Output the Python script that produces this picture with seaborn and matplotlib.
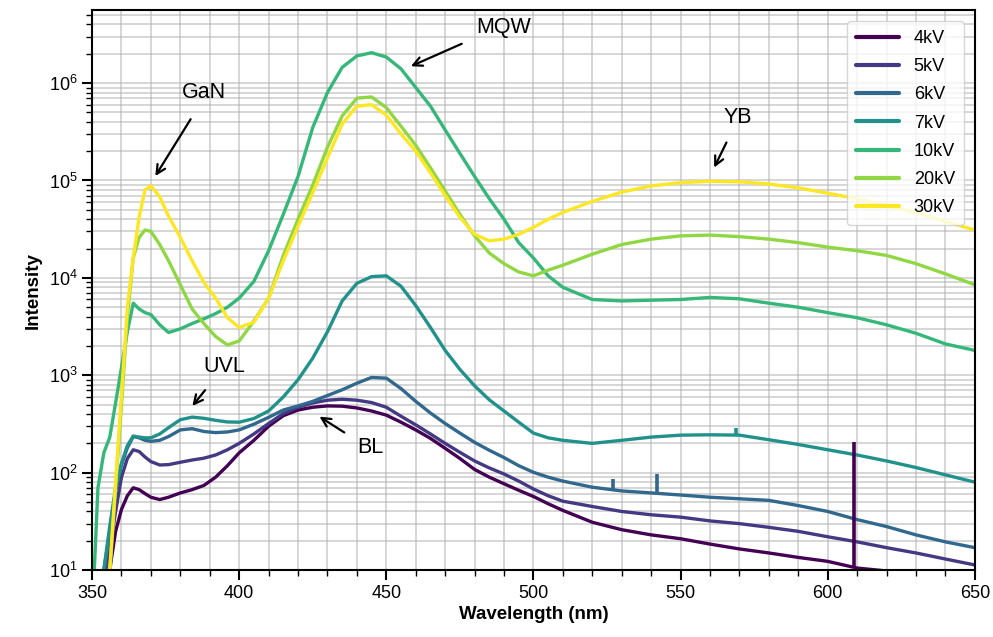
import numpy as np
import pandas as pd
import seaborn as sns
import matplotlib.pyplot as plt
from matplotlib.ticker import MultipleLocator, LogLocator, NullFormatter

# 波长 (nm)
wavelength = [350, 352, 354, 356, 358, 360, 362, 364, 366, 368, 370, 373, 376,
              380, 384, 388, 392, 396, 400, 405, 410, 415, 420, 425, 430, 435,
              440, 445, 450, 455, 460, 465, 470, 475, 480, 485, 490, 495, 500,
              505, 510, 520, 530, 540, 550, 560, 570, 580, 590, 600, 610, 620,
              630, 640, 650]

labels = ['4kV', '5kV', '6kV', '7kV', '10kV', '20kV', '30kV']

kv4 = [3, 3, 4, 10, 25, 42, 58, 70, 67, 61, 56, 53, 56,
       62, 67, 74, 90, 118, 160, 215, 300, 385, 440, 470, 485, 482,
       462, 430, 390, 330, 275, 225, 178, 140, 108, 90, 77, 66, 57,
       48, 41, 31, 26, 23, 21, 18.5, 16.5, 15, 13.5, 12.3, 10.5, 9.8,
       9, 8.5, 8]
kv5 = [3, 3, 8, 16, 40, 90, 140, 172, 165, 145, 130, 120, 121,
       128, 135, 141, 152, 172, 200, 250, 320, 405, 470, 520, 555, 568,
       555, 525, 470, 380, 310, 250, 200, 162, 132, 112, 97, 82, 68,
       58, 51, 45, 40, 37, 35, 32, 30, 27.5, 25, 22, 19.5, 17,
       15, 13, 11.3]
kv6 = [3, 4, 10, 25, 65, 120, 180, 235, 228, 215, 210, 215, 235,
       275, 283, 265, 258, 262, 275, 315, 370, 440, 485, 540, 620, 710,
       830, 950, 935, 730, 540, 410, 320, 255, 205, 170, 143, 118, 101,
       90, 82, 71, 65, 62, 59, 56, 54, 52, 46, 40, 33, 28,
       23, 19.5, 17]
kv7 = [3, 4, 10, 28, 70, 125, 190, 238, 232, 228, 228, 250, 290,
       350, 372, 362, 345, 332, 330, 360, 430, 600, 900, 1500, 2800, 5800,
       8800, 10300, 10500, 8200, 5200, 3100, 1800, 1150, 780, 560, 430, 330, 255,
       228, 215, 200, 215, 232, 243, 245, 243, 218, 195, 172, 152, 132,
       113, 95, 80]
kv10 = [3, 70, 160, 230, 520, 1200, 2800, 5500, 4800, 4400, 4200, 3300, 2750,
        3000, 3400, 3800, 4300, 5000, 6200, 9200, 1.9e4, 4.5e4, 1.1e5, 3.5e5, 8e5, 1.45e6,
        1.9e6, 2.05e6, 1.85e6, 1.4e6, 9e5, 5.8e5, 3.3e5, 1.9e5, 1.1e5, 6.5e4, 4e4, 2.3e4, 1.6e4,
        1.05e4, 8000, 6000, 5800, 5900, 6000, 6300, 6100, 5500, 5000, 4400, 3900, 3300,
        2700, 2100, 1800]
kv20 = [3, 3, 5, 9, 70, 500, 4000, 1.6e4, 2.6e4, 3.1e4, 3e4, 2.2e4, 1.5e4,
        8500, 4800, 3400, 2500, 2050, 2250, 3600, 6200, 1.7e4, 4e4, 9e4, 2.2e5, 4.6e5,
        7e5, 7.2e5, 5.6e5, 3.6e5, 2.3e5, 1.35e5, 7.8e4, 4.5e4, 2.7e4, 1.8e4, 1.4e4, 1.15e4, 1.05e4,
        1.2e4, 1.35e4, 1.75e4, 2.2e4, 2.5e4, 2.7e4, 2.75e4, 2.65e4, 2.5e4, 2.3e4, 2.07e4, 1.9e4, 1.7e4,
        1.4e4, 1.1e4, 8500]
kv30 = [3, 3, 4, 10, 80, 630, 5000, 1.6e4, 4.2e4, 8e4, 8.8e4, 6.8e4, 4.3e4,
        2.6e4, 1.5e4, 9000, 6200, 3900, 3100, 3500, 6200, 1.5e4, 3.4e4, 7.5e4, 1.7e5, 3.8e5,
        5.8e5, 6e5, 4.7e5, 3e5, 2e5, 1.2e5, 7e4, 4.2e4, 2.8e4, 2.4e4, 2.5e4, 2.8e4, 3.3e4,
        4e4, 4.7e4, 6.1e4, 7.6e4, 8.8e4, 9.5e4, 9.8e4, 9.7e4, 9.2e4, 8.4e4, 7.4e4, 6.5e4, 5.5e4,
        4.7e4, 3.8e4, 3.1e4]

# 窄尖峰
spike_series = ['4kV', '6kV', '6kV', '7kV']
spike_wl = [609, 527, 542, 569]
spike_base = [10.5, 68, 63, 243]
spike_peak = [205, 86, 97, 290]

series = [kv4, kv5, kv6, kv7, kv10, kv20, kv30]
data = pd.DataFrame({
    'Wavelength': np.tile(wavelength, len(labels)),
    'Intensity': np.concatenate(series),
    'Voltage': np.repeat(labels, len(wavelength)),
})

sns.set_style('ticks')
plt.rcParams['font.family'] = ['Liberation Sans', 'DejaVu Sans']
plt.rcParams['text.color'] = 'black'
plt.rcParams['axes.labelcolor'] = 'black'
plt.rcParams['xtick.color'] = 'black'
plt.rcParams['ytick.color'] = 'black'
plt.rcParams['axes.edgecolor'] = 'black'

colors = [plt.cm.viridis(v) for v in np.linspace(0, 1, len(labels))]
palette = dict(zip(labels, colors))

fig = plt.figure(figsize=(9.93, 6.37), dpi=100)
ax = fig.add_axes([0.0927, 0.105, 0.889, 0.879])

sns.lineplot(data=data, x='Wavelength', y='Intensity', hue='Voltage',
             palette=palette, hue_order=labels, linewidth=2.4, ax=ax,
             legend=False)

for s, w, lo, hi in zip(spike_series, spike_wl, spike_base, spike_peak):
    ax.vlines(w, lo, hi, color=palette[s], linewidth=2.6)

ax.set_yscale('log')
ax.set_xlim(350, 650)
ax.set_ylim(10, 5.6e6)

ax.xaxis.set_major_locator(MultipleLocator(50))
ax.xaxis.set_minor_locator(MultipleLocator(10))
ax.yaxis.set_major_locator(LogLocator(base=10, numticks=10))
ax.yaxis.set_minor_locator(LogLocator(base=10, subs=np.arange(2, 10), numticks=20))
ax.yaxis.set_minor_formatter(NullFormatter())

ax.grid(which='both', color='#b0b0b0', linewidth=1.2, alpha=0.6)
ax.set_axisbelow(True)

ax.tick_params(which='major', length=7, width=1.5, labelsize=13, direction='out')
ax.tick_params(which='minor', length=4, width=1.0, direction='out')
for sp in ax.spines.values():
    sp.set_linewidth(1.5)

ax.set_xlabel('Wavelength (nm)', fontsize=13.5, fontweight='bold', labelpad=3)
ax.set_ylabel('Intensity', fontsize=13.5, fontweight='bold', labelpad=5)

# 图例
handles = [plt.Line2D([], [], color=palette[l], linewidth=3) for l in labels]
ax.legend(handles, labels, loc='upper right', fontsize=13, framealpha=0.8,
          edgecolor='#cccccc', handlelength=2.4, labelspacing=0.62,
          borderpad=0.5, borderaxespad=0.6)

# 标注
arrow = dict(arrowstyle='->', color='black', lw=1.6, mutation_scale=16)
notes = [
    ('GaN', (388, 8e5), (384, 4.5e5), (371, 1.05e5)),
    ('MQW', (490, 3.7e6), (476.5, 2.6e6), (457.5, 1.45e6)),
    ('YB', (569.5, 4.4e5), (566, 2.6e5), (561, 1.28e5)),
    ('UVL', (395, 1230), (389, 740), (383.5, 460)),
    ('BL', (444.5, 180), (436.5, 250), (426.5, 390)),
]
for txt, pos, tail, head in notes:
    ax.text(pos[0], pos[1], txt, fontsize=15.5, ha='center', va='center')
    ax.annotate('', xy=head, xytext=tail, arrowprops=arrow)

plt.savefig('out.png', dpi=100)
